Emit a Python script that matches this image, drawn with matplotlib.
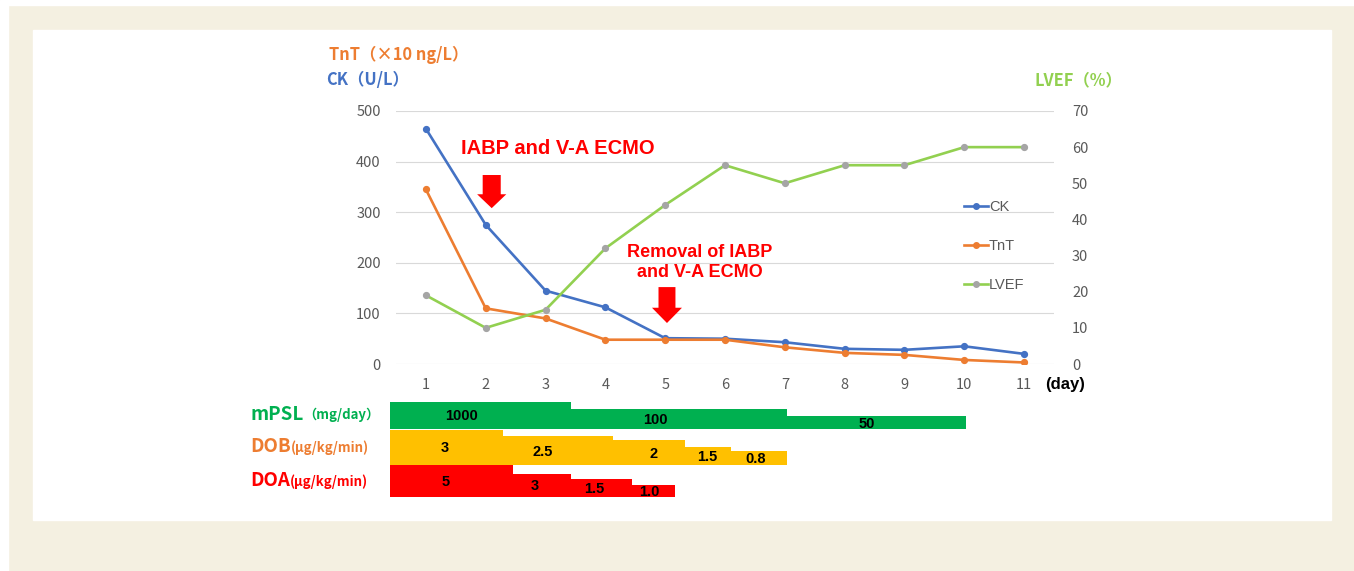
import matplotlib
matplotlib.use('Agg')
import matplotlib.pyplot as plt
from matplotlib.patches import Rectangle
from matplotlib.lines import Line2D

plt.rcParams['font.family'] = ['Noto Sans CJK JP', 'DejaVu Sans']

# ---------------- data ----------------
days = [1, 2, 3, 4, 5, 6, 7, 8, 9, 10, 11]
ck = [465, 275, 145, 112, 51, 50, 43, 30, 28, 35, 20]
tnt = [345, 110, 90, 48, 48, 48, 33, 22, 18, 8, 3]
lvef = [19, 10, 15, 32, 44, 55, 50, 55, 55, 60, 60]

left_ticks = [0, 100, 200, 300, 400, 500]
right_ticks = [0, 10, 20, 30, 40, 50, 60, 70]

mpsl_dose = ['1000', '100', '50']
mpsl_from = [0.4, 3.42, 7.03]
mpsl_to = [3.42, 7.03, 10.03]

dob_dose = ['3', '2.5', '2', '1.5', '0.8']
dob_from = [0.4, 2.29, 4.13, 5.33, 6.10]
dob_to = [2.29, 4.13, 5.33, 6.10, 7.03]

doa_dose = ['5', '3', '1.5', '1.0']
doa_from = [0.4, 2.45, 3.42, 4.44]
doa_to = [2.45, 3.42, 4.44, 5.16]

# ---------------- styles ----------------
W, H = 1354, 571
C_CK, C_TNT, C_LVEF, C_MARK = '#4472c4', '#ed7d31', '#92d050', '#a5a5a5'
GRAY = '#595959'
BEIGE = '#f4f0e1'

def fx(px):
    return px / W

def fy(py):
    return 1 - py / H

fig = plt.figure(figsize=(W / 100, H / 100), dpi=100)
fig.patch.set_facecolor(BEIGE)
# white frame strips and inner white panel
for rect in [(0, 0, fx(8), 1),
             (0, fy(5), 1, 5 / H),
             (fx(33), fy(520), fx(1331 - 33), (520 - 30) / H)]:
    fig.patches.append(Rectangle(rect[:2], rect[2], rect[3], transform=fig.transFigure,
                                 color='white', zorder=-5))

# ---------------- main chart ----------------
ax = fig.add_axes([fx(396), fy(364), fx(1054 - 396), (364 - 111) / H])
ax.set_facecolor('none')
ax2 = ax.twinx()

ax.plot(days, ck, color=C_CK, lw=1.9, marker='o', ms=4.2, zorder=3, label='CK')
ax.plot(days, tnt, color=C_TNT, lw=1.9, marker='o', ms=4.2, zorder=3, label='TnT')
ax2.plot(days, lvef, color=C_LVEF, lw=1.9, marker='o', ms=4.2, mfc=C_MARK, mec=C_MARK,
         zorder=3, label='LVEF')

ax.set_xlim(0.5, 11.5)
ax.set_ylim(0, 500)
ax2.set_ylim(0, 70)
ax.set_xticks(days)
ax.set_yticks(left_ticks)
ax2.set_yticks(right_ticks)
ax.grid(axis='y', color='#d9d9d9', lw=0.8)
ax.set_axisbelow(True)
for a in (ax, ax2):
    for s in a.spines.values():
        s.set_visible(False)
ax.tick_params(axis='both', length=0, labelcolor=GRAY, labelsize=10.5)
ax.tick_params(axis='x', pad=10)
ax.tick_params(axis='y', pad=11)
ax2.tick_params(axis='y', length=0, labelcolor=GRAY, labelsize=10.5, pad=13)

# legend
handles = [Line2D([], [], color=C_CK, lw=1.9, marker='o', ms=4),
           Line2D([], [], color=C_TNT, lw=1.9, marker='o', ms=4),
           Line2D([], [], color=C_LVEF, lw=1.9, marker='o', ms=4, mfc=C_MARK, mec=C_MARK)]
leg = ax2.legend(handles, ['CK', 'TnT', 'LVEF'], loc='center left',
                 bbox_to_anchor=(fx(957), fy(246)), bbox_transform=fig.transFigure,
                 frameon=False, handlelength=1.65, handletextpad=0.05, labelspacing=1.73,
                 borderpad=0, prop={'family': 'Liberation Sans', 'size': 10.5})
for t in leg.get_texts():
    t.set_color(GRAY)

# annotations
ax2.text(3.21, 425, 'IABP and V-A ECMO', transform=ax.transData, ha='center', va='center',
         color='#ff0000', fontsize=14.5, fontweight='bold', family='Liberation Sans')
ax2.annotate('', xy=(2.1, 308), xytext=(2.1, 373.5), xycoords=ax.transData, textcoords=ax.transData,
             arrowprops=dict(arrowstyle='simple,head_length=10,head_width=21,tail_width=13',
                             mutation_scale=1, fc='#ff0000', ec='none', shrinkA=0, shrinkB=0))
ax2.text(5.58, 201, 'Removal of IABP\nand V-A ECMO', transform=ax.transData, ha='center',
         va='center', color='#ff0000', fontsize=13, fontweight='bold', family='Liberation Sans',
         linespacing=1.2)
ax2.annotate('', xy=(5.03, 81), xytext=(5.03, 152), xycoords=ax.transData, textcoords=ax.transData,
             arrowprops=dict(arrowstyle='simple,head_length=11,head_width=21.6,tail_width=12.2',
                             mutation_scale=1, fc='#ff0000', ec='none', shrinkA=0, shrinkB=0))

# axis titles
fig.text(fx(329), fy(55), 'TnT（×10 ng/L）', color=C_TNT, fontsize=11.8, fontweight='bold',
         va='center', ha='left')
fig.text(fx(326), fy(80), 'CK（U/L）', color=C_CK, fontsize=11.8, fontweight='bold',
         va='center', ha='left')
fig.text(fx(1035), fy(80), 'LVEF（%）', color=C_LVEF, fontsize=11.8, fontweight='bold',
         va='center', ha='left')
fig.text(fx(1045), fy(385), '(day)', color='black', fontsize=12, fontweight='bold',
         family='Liberation Sans', va='center', ha='left')

# ---------------- treatment bars ----------------
bx = fig.add_axes([fx(396), fy(497), fx(1054 - 396), (497 - 401) / H])
bx.set_xlim(0.5, 11.5)
bx.set_ylim(0, 96)
bx.axis('off')

rows = [
    (mpsl_dose, mpsl_from, mpsl_to, '#00b050', 68, [27, 20, 13], [-0.31, -0.39, -0.16]),
    (dob_dose, dob_from, dob_to, '#ffc000', 32, [35, 29, 25, 18, 14], [-0.03, -0.25, 0.07, -0.02, -0.05]),
    (doa_dose, doa_from, doa_to, '#ff0000', 0, [32, 23, 18, 12], [-0.1, -0.12, -0.12, -0.07]),
]
for doses, x0s, x1s, col, base, heights, offs in rows:
    widths = [b - a for a, b in zip(x0s, x1s)]
    bx.bar(x0s, heights, width=widths, bottom=base, align='edge', color=col, lw=0, clip_on=False)
    for d, a, w, h, o in zip(doses, x0s, widths, heights, offs):
        bx.text(a + w / 2 + o, base + h / 2 - 1, d, ha='center', va='center', fontsize=10.5,
                fontweight='bold', family='Liberation Sans', color='black')

# row labels (main part + smaller unit part)
row_labels = [('mPSL', '（mg/day）', '#00b050', 414),
              ('DOB', '(μg/kg/min)', '#ed7d31', 447),
              ('DOA', '(μg/kg/min)', '#ff0000', 481)]
for main, unit, col, yc in row_labels:
    t1 = fig.text(fx(250), fy(yc), main, color=col, fontsize=13.5, fontweight='bold',
                  va='center', ha='left')
    fig.add_artist(matplotlib.text.Annotation(unit, xy=(1, 0.22), xycoords=t1, va='baseline',
                                              ha='left', color=col, fontsize=9.5,
                                              fontweight='bold', annotation_clip=False))

fig.savefig('out.png', dpi=100, facecolor=fig.get_facecolor())
